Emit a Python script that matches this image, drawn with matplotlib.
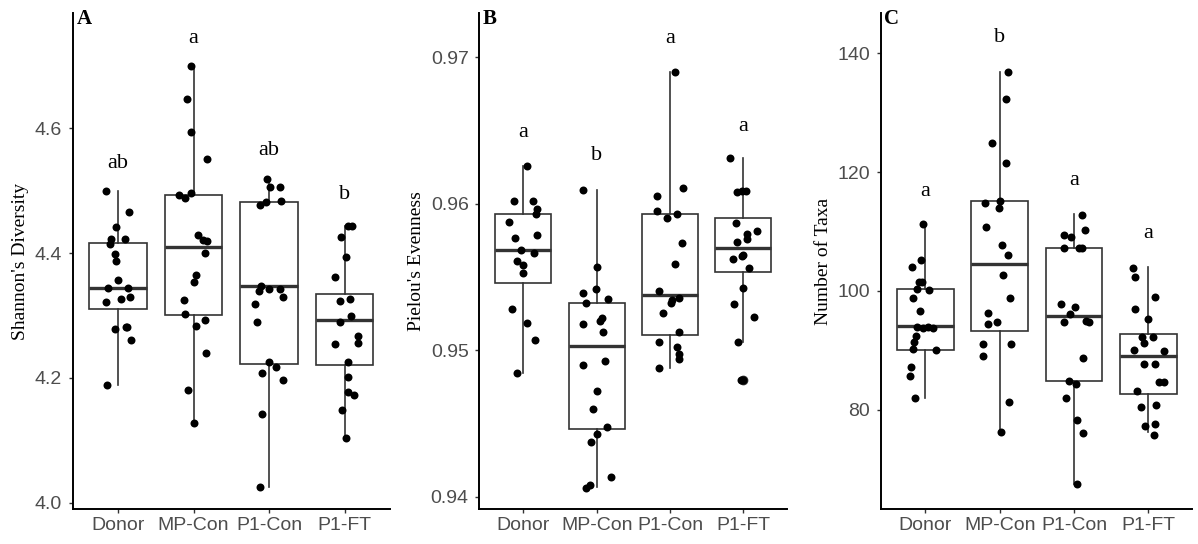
import matplotlib
matplotlib.use("Agg")
import matplotlib.pyplot as plt

groups = ["Donor", "MP-Con", "P1-Con", "P1-FT"]

# ---------------- Panel A: Shannon's Diversity ----------------
shannon_values = [
    [4.500, 4.466, 4.442, 4.422, 4.414, 4.423, 4.398, 4.387, 4.357, 4.344,
     4.344, 4.329, 4.327, 4.321, 4.278, 4.282, 4.282, 4.261, 4.189],
    [4.700, 4.647, 4.594, 4.550, 4.493, 4.489, 4.496, 4.429, 4.421, 4.419,
     4.400, 4.365, 4.354, 4.325, 4.303, 4.283, 4.292, 4.240, 4.180, 4.127],
    [4.518, 4.506, 4.506, 4.477, 4.482, 4.483, 4.339, 4.348, 4.342, 4.343,
     4.330, 4.319, 4.290, 4.225, 4.208, 4.218, 4.196, 4.142, 4.025],
    [4.443, 4.443, 4.425, 4.394, 4.361, 4.323, 4.327, 4.299, 4.290, 4.267,
     4.254, 4.256, 4.225, 4.201, 4.177, 4.172, 4.148, 4.104],
]
shannon_jitter = [
    [-0.154, 0.141, -0.022, -0.088, -0.110, 0.097, -0.035, -0.022, 0.0, -0.132,
     0.132, 0.154, 0.035, -0.163, -0.044, 0.101, 0.123, 0.167, -0.145],
    [-0.035, -0.088, -0.031, 0.176, -0.189, -0.110, -0.035, 0.057, 0.119, 0.176,
     0.154, 0.035, 0.009, -0.132, -0.110, 0.035, 0.154, 0.159, -0.075, 0.0],
    [-0.035, 0.009, 0.141, -0.115, -0.048, 0.154, -0.132, -0.106, 0.0, 0.141,
     0.185, -0.189, -0.163, 0.0, -0.101, 0.088, 0.185, -0.093, -0.123],
    [0.044, 0.101, -0.044, 0.022, -0.132, -0.066, 0.066, 0.088, -0.066, 0.176,
     -0.132, 0.176, 0.044, 0.044, 0.044, 0.119, -0.035, 0.022],
]
shannon_q1 = [4.311, 4.301, 4.223, 4.221]
shannon_med = [4.344, 4.409, 4.347, 4.293]
shannon_q3 = [4.416, 4.493, 4.482, 4.335]
shannon_lo = [4.189, 4.127, 4.025, 4.104]
shannon_hi = [4.500, 4.700, 4.518, 4.443]
shannon_letters = ["ab", "a", "ab", "b"]
shannon_letter_y = [4.544, 4.744, 4.564, 4.494]

# ---------------- Panel B: Pielou's Evenness ----------------
pielou_values = [
    [0.96256, 0.96019, 0.96019, 0.95967, 0.95931, 0.95872, 0.95765, 0.95784,
     0.95687, 0.95664, 0.95611, 0.95580, 0.95528, 0.95280, 0.95185, 0.95071, 0.94841],
    [0.96097, 0.95569, 0.95391, 0.95415, 0.95351, 0.95320, 0.95220, 0.95197,
     0.95180, 0.95121, 0.94900, 0.94929, 0.94723, 0.94597, 0.94479, 0.94431,
     0.94374, 0.94137, 0.94083, 0.94059],
    [0.96898, 0.96109, 0.96050, 0.95950, 0.95900, 0.95931, 0.95730, 0.95588,
     0.95405, 0.95346, 0.95322, 0.95355, 0.95256, 0.95121, 0.95059, 0.95019,
     0.94972, 0.94941, 0.94877],
    [0.96315, 0.96078, 0.96090, 0.96090, 0.95865, 0.95813, 0.95796, 0.95758,
     0.95742, 0.95652, 0.95623, 0.95640, 0.95564, 0.95427, 0.95315, 0.95227,
     0.95054, 0.94799, 0.94799],
]
pielou_jitter = [
    [0.046, -0.128, 0.128, 0.183, 0.174, -0.202, -0.110, 0.183, -0.037, 0.147,
     -0.092, 0.0, -0.009, -0.161, 0.055, 0.161, -0.083],
    [-0.183, 0.0, -0.188, -0.014, 0.156, -0.147, 0.073, 0.046, -0.183, 0.092,
     -0.183, 0.110, 0.0, -0.055, 0.142, 0.0, -0.083, 0.193, -0.092, -0.151],
    [0.064, 0.183, -0.174, -0.174, -0.046, 0.096, 0.170, 0.069, -0.151, 0.023,
     0.009, 0.128, -0.092, 0.128, -0.156, 0.101, 0.124, 0.124, -0.151],
    [-0.183, -0.083, -0.023, 0.037, -0.101, 0.183, 0.046, 0.055, -0.092, 0.0,
     -0.138, -0.023, 0.083, 0.0, -0.124, 0.151, -0.069, -0.032, 0.0],
]
pielou_q1 = [0.95457, 0.94462, 0.95107, 0.95533]
pielou_med = [0.95682, 0.95026, 0.95379, 0.95701]
pielou_q3 = [0.95931, 0.95322, 0.95927, 0.95900]
pielou_lo = [0.94841, 0.94064, 0.94877, 0.95054]
pielou_hi = [0.96256, 0.96097, 0.96898, 0.96310]
pielou_outliers = [[], [], [], [0.94799]]
pielou_letters = ["a", "b", "a", "a"]
pielou_letter_y = [0.96488, 0.96329, 0.97128, 0.96524]

# ---------------- Panel C: Number of Taxa ----------------
taxa_values = [
    [111.23, 105.16, 103.99, 101.48, 101.48, 100.30, 100.14, 98.86, 96.64, 93.95,
     93.72, 93.95, 93.72, 92.43, 91.38, 90.22, 90.10, 87.18, 85.72, 81.93],
    [136.8, 132.3, 124.83, 121.45, 115.2, 114.03, 114.73, 110.7, 107.73, 106.09,
     102.65, 98.86, 96.23, 94.77, 94.36, 91.09, 91.09, 89.11, 81.34, 76.21],
    [112.75, 110.24, 109.36, 109.0, 107.2, 107.2, 107.2, 97.8, 97.28, 96.05,
     94.77, 94.88, 94.77, 88.76, 84.85, 84.26, 81.93, 78.25, 76.09, 67.45],
    [103.82, 102.36, 98.97, 96.99, 95.24, 92.32, 92.32, 91.27, 90.10, 89.92,
     87.76, 87.76, 84.67, 84.67, 83.09, 80.47, 80.76, 77.26, 77.66, 75.80],
]
taxa_jitter = [
    [-0.032, -0.063, -0.176, -0.086, -0.041, -0.113, 0.050, -0.167, -0.068, -0.113,
     -0.032, 0.036, 0.104, -0.131, -0.158, -0.167, 0.140, -0.189, -0.203, -0.144],
    [0.108, 0.086, -0.104, 0.086, 0.009, -0.014, -0.194, -0.185, 0.036, 0.108,
     0.041, 0.144, -0.158, -0.036, -0.162, -0.225, 0.153, -0.225, 0.122, 0.023],
    [0.104, 0.149, -0.135, -0.045, -0.135, 0.068, 0.104, -0.180, 0.009, -0.054,
     -0.135, 0.158, 0.203, 0.126, -0.068, 0.027, -0.113, 0.041, 0.126, 0.036],
    [-0.203, -0.180, 0.090, -0.180, 0.0, -0.081, 0.054, -0.059, -0.194, 0.203,
     -0.059, 0.086, 0.144, 0.203, -0.158, -0.095, 0.099, -0.050, 0.086, 0.077],
]
taxa_q1 = [90.10, 93.31, 84.85, 82.63]
taxa_med = [94.07, 104.58, 95.76, 89.11]
taxa_q3 = [100.30, 115.08, 107.15, 92.73]
taxa_lo = [82.04, 76.21, 67.45, 76.20]
taxa_hi = [111.23, 136.8, 112.87, 103.99]
taxa_letters = ["a", "b", "a", "a"]
taxa_letter_y = [116.66, 142.64, 118.59, 109.66]

panels = [
    dict(tag="A", ylabel="Shannon's Diversity", values=shannon_values, jitter=shannon_jitter,
         q1=shannon_q1, med=shannon_med, q3=shannon_q3, lo=shannon_lo, hi=shannon_hi,
         out=[[], [], [], []], letters=shannon_letters, letter_y=shannon_letter_y,
         ticks=[4.0, 4.2, 4.4, 4.6], fmt="{:.1f}", ylim=(3.9894, 4.7843), xr=4.6,
         rect=[0.0607, 0.0638, 0.2649, 0.9118]),
    dict(tag="B", ylabel="Pielou's Evenness", values=pielou_values, jitter=pielou_jitter,
         q1=pielou_q1, med=pielou_med, q3=pielou_q3, lo=pielou_lo, hi=pielou_hi,
         out=pielou_outliers, letters=pielou_letters, letter_y=pielou_letter_y,
         ticks=[0.94, 0.95, 0.96, 0.97], fmt="{:.2f}", ylim=(0.93914, 0.97300), xr=4.6,
         rect=[0.4001, 0.0638, 0.2571, 0.9118]),
    dict(tag="C", ylabel="Number of Taxa", values=taxa_values, jitter=taxa_jitter,
         q1=taxa_q1, med=taxa_med, q3=taxa_q3, lo=taxa_lo, hi=taxa_hi,
         out=[[], [], [], []], letters=taxa_letters, letter_y=taxa_letter_y,
         ticks=[80, 100, 120, 140], fmt="{:d}", ylim=(63.25, 146.73), xr=4.58,
         rect=[0.7351, 0.0638, 0.2596, 0.9118]),
]

fig = plt.figure(figsize=(11.98, 5.44), dpi=100)
box_color = "#333333"
tick_color = "#4D4D4D"
sans = "Liberation Sans"
serif = "Liberation Serif"

for p in panels:
    ax = fig.add_axes(p["rect"])
    positions = list(range(1, len(groups) + 1))
    stats = []
    for i in range(len(groups)):
        stats.append(dict(med=p["med"][i], q1=p["q1"][i], q3=p["q3"][i],
                          whislo=p["lo"][i], whishi=p["hi"][i], fliers=p["out"][i]))
    ax.bxp(stats, positions=positions, widths=0.76, showcaps=False, showfliers=True,
           boxprops=dict(color=box_color, linewidth=1.2),
           whiskerprops=dict(color=box_color, linewidth=1.2),
           medianprops=dict(color=box_color, linewidth=2.4),
           flierprops=dict(marker="o", markerfacecolor="#333333", markeredgecolor="#333333",
                           markersize=6),
           patch_artist=True)
    for patch in ax.patches:
        patch.set_facecolor("white")
        patch.set_edgecolor(box_color)
    for i, (vals, jit) in enumerate(zip(p["values"], p["jitter"])):
        xs = [positions[i] + j for j in jit]
        ax.scatter(xs, vals, s=33, color="black", zorder=5, linewidths=0)
    for i, (lab, ly) in enumerate(zip(p["letters"], p["letter_y"])):
        ax.text(positions[i], ly, lab, ha="center", va="center", fontsize=16,
                family=serif, color="black")
    ax.set_xlim(0.4, p["xr"])
    ax.set_ylim(*p["ylim"])
    ax.set_xticks(positions)
    ax.set_xticklabels(groups, fontsize=14, family=sans, color=tick_color)
    ax.set_yticks(p["ticks"])
    ax.set_yticklabels([p["fmt"].format(t) for t in p["ticks"]], fontsize=14,
                       family=sans, color=tick_color)
    ax.tick_params(axis="both", length=3.2, width=1.0, color="#333333")
    ax.tick_params(axis="x", pad=2.5)
    ax.tick_params(axis="y", pad=4.5)
    ax.set_ylabel(p["ylabel"], fontsize=14, family=serif, color="black", labelpad=4)
    for side in ["top", "right"]:
        ax.spines[side].set_visible(False)
    for side in ["left", "bottom"]:
        ax.spines[side].set_linewidth(1.4)
        ax.spines[side].set_color("black")
    ax.text(0.012, 1.008, p["tag"], transform=ax.transAxes, ha="left", va="top",
            fontsize=15, fontweight="bold", family=serif)

fig.savefig("out.png", dpi=100, facecolor="white")
